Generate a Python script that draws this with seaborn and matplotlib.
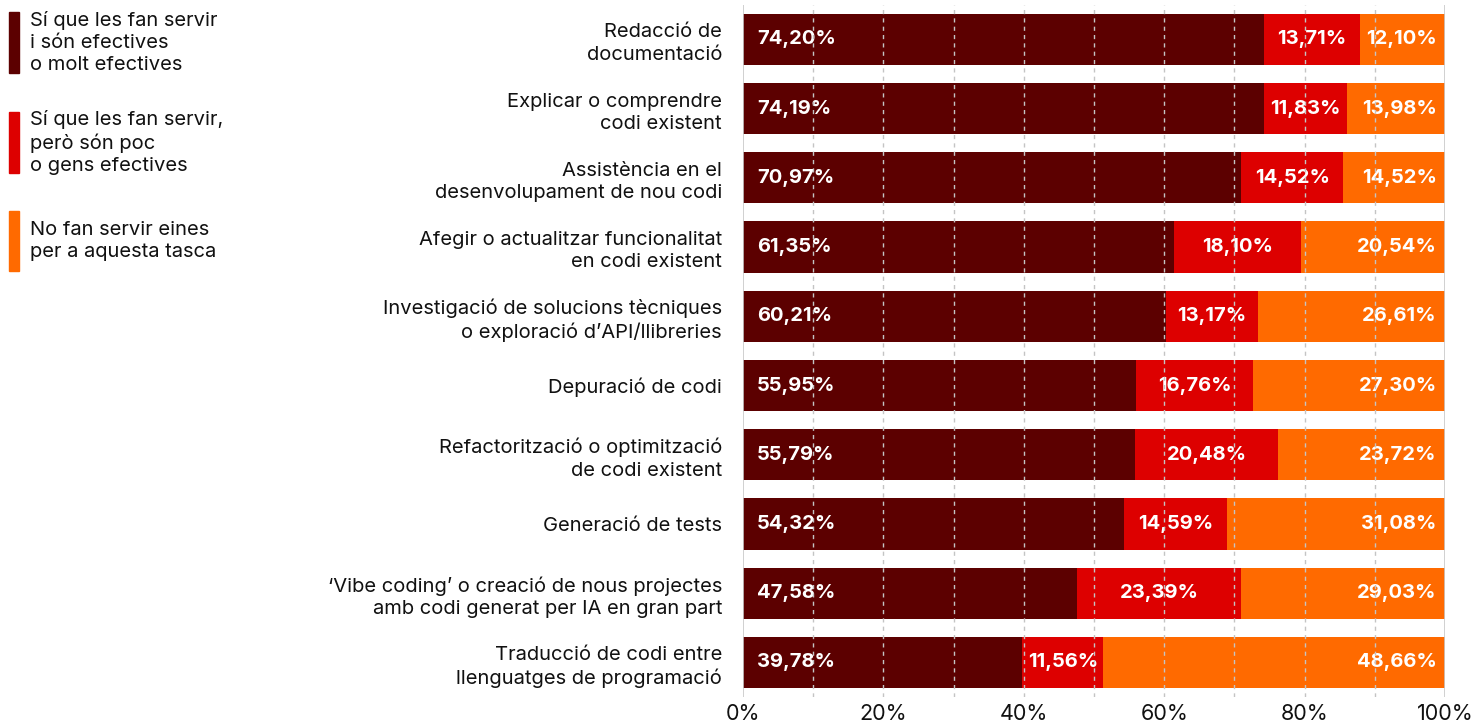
import matplotlib.pyplot as plt
import seaborn as sns
import numpy as np
import pandas as pd

tasks = [
    "Redacció de\ndocumentació",
    "Explicar o comprendre\ncodi existent",
    "Assistència en el\ndesenvolupament de nou codi",
    "Afegir o actualitzar funcionalitat\nen codi existent",
    "Investigació de solucions tècniques\no exploració d\u2019API/llibreries",
    "Depuració de codi",
    "Refactorització o optimització\nde codi existent",
    "Generació de tests",
    "\u2018Vibe coding\u2019 o creació de nous projectes\namb codi generat per IA en gran part",
    "Traducció de codi entre\nllenguatges de programació",
]
efectives = [74.20, 74.19, 70.97, 61.35, 60.21, 55.95, 55.79, 54.32, 47.58, 39.78]
poc_efectives = [13.71, 11.83, 14.52, 18.10, 13.17, 16.76, 20.48, 14.59, 23.39, 11.56]
no_fan_servir = [12.10, 13.98, 14.52, 20.54, 26.61, 27.30, 23.72, 31.08, 29.03, 48.66]

series = [
    "Sí que les fan servir\ni són efectives\no molt efectives",
    "Sí que les fan servir,\nperò són poc\no gens efectives",
    "No fan servir eines\nper a aquesta tasca",
]
colors = ["#5c0000", "#dd0000", "#ff6a00"]

df = pd.DataFrame({
    "task": tasks,
    "a": efectives,
    "b": poc_efectives,
    "c": no_fan_servir,
})
df["ab"] = df["a"] + df["b"]
df["abc"] = df["ab"] + df["c"]

sns.set_style("white")
plt.rcParams["font.family"] = ["Inter", "DejaVu Sans"]

fig = plt.figure(figsize=(14.75, 7.24), dpi=100)
ax = fig.add_axes([0.5037, 0.0373, 0.4760, 0.9560])

# layered bars (total first, then partial sums on top)
for col, c in zip(["abc", "ab", "a"], colors[::-1]):
    sns.barplot(data=df, x=col, y="task", color=c, width=0.74, saturation=1,
                linewidth=0, ax=ax, orient="h")

def fmt(v):
    return f"{v:.2f}%".replace(".", ",")

lbl = dict(color="white", fontsize=14.5, fontweight="bold", va="center")
for i, row in df.iterrows():
    ax.annotate(fmt(row["a"]), (0, i), xytext=(10, 0), textcoords="offset points",
                ha="left", **lbl)
    ax.annotate(fmt(row["b"]), ((row["a"] + row["ab"]) / 2, i), ha="center", **lbl)
    ax.annotate(fmt(row["c"]), (min(row["abc"], 100), i), xytext=(-6, 0),
                textcoords="offset points", ha="right", **lbl)

ax.set_xlim(0, 100)
ax.set_ylim(9.5, -0.5)
ax.set_xticks(range(0, 101, 10))
ax.set_xticklabels([f"{t}%" if t % 20 == 0 else "" for t in range(0, 101, 10)],
                   fontsize=15.5, color="#111111")
ax.tick_params(axis="x", length=0, pad=5)
ax.tick_params(axis="y", length=0, pad=15, labelsize=14.5, labelcolor="#111111")
for lab in ax.get_yticklabels():
    lab.set_ha("right")
    lab.set_multialignment("right")
    lab.set_linespacing(1.3)
ax.set_xlabel("")
ax.set_ylabel("")
for s in ax.spines.values():
    s.set_visible(False)

ax.set_axisbelow(False)
for t in range(10, 100, 10):
    ax.axvline(t, color="#c4c4c4", lw=1, ls=(0, (3, 3)), zorder=5)
ax.axvline(0, color="#c8c8c8", lw=1.2, zorder=5)
ax.axvline(100, color="#c8c8c8", lw=1.2, zorder=5)

# legend at top-left
legend_tops = [0.983, 0.845, 0.708]
legend_heights = [0.084, 0.084, 0.082]
for name, c, top, h in zip(series, colors, legend_tops, legend_heights):
    fig.patches.append(plt.Rectangle((0.0061, top - h), 0.0068, h,
                                     transform=fig.transFigure, color=c))
    fig.text(0.0203, top - h / 2, name, ha="left", va="center", fontsize=14.5,
             linespacing=1.3, color="#111111")

plt.savefig("out.png", dpi=100)
